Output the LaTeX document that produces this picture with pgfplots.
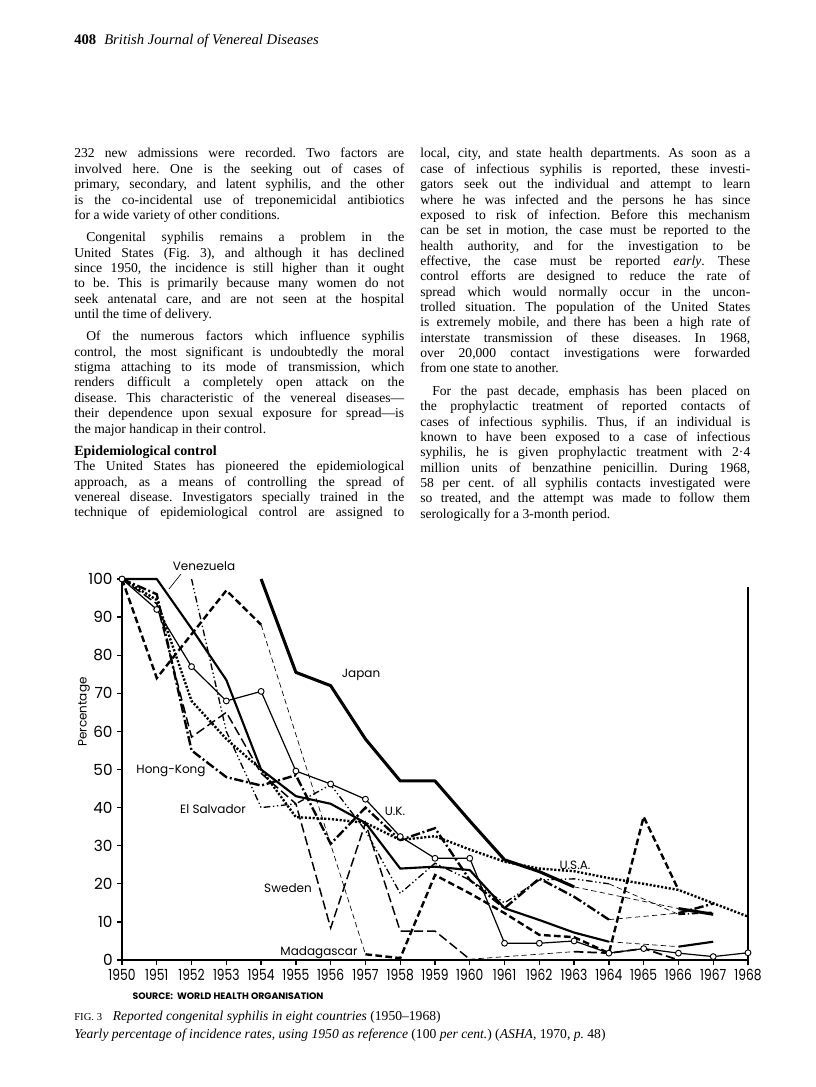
\documentclass[border=0pt]{standalone}
\usepackage{fontspec}
\setmainfont{Liberation Serif}
\newfontfamily\chartfont{Poppins}
\usepackage{pgfplots}
\pgfplotsset{compat=1.18}
\frenchspacing
\newcommand\jl[1]{\makebox[247.5pt][s]{#1}}
\newcommand\il[1]{\makebox[238.5pt][s]{#1}}
\tikzset{tl/.style={anchor=base west, inner sep=0pt, font=\fontsize{10.2}{12}\selectfont},
  cl/.style={inner sep=0pt, font=\chartfont\fontsize{9}{10}\selectfont}}
\begin{document}
\begin{tikzpicture}
\begin{scope}[x=0.75pt,y=-0.75pt]
\path[use as bounding box] (0,0) rectangle (816,1087);
\fill[white] (0,0) rectangle (816,1087);
% header
\node[anchor=base west, inner sep=0pt, font=\fontsize{11}{12}\selectfont] at (74,45) {\textbf{408}\hspace{6pt}\textit{British Journal of Venereal Diseases}};
% left column
\node[tl] at (74,158) {\jl{232 new admissions were recorded. Two factors are}};
\node[tl] at (74,173.4) {\jl{involved here. One is the seeking out of cases of}};
\node[tl] at (74,188.7) {\jl{primary, secondary, and latent syphilis, and the other}};
\node[tl] at (74,204.1) {\jl{is the co-incidental use of treponemicidal antibiotics}};
\node[tl] at (74,219.4) {for a wide variety of other conditions.};
\node[tl] at (86,241.8) {\il{Congenital syphilis remains a problem in the}};
\node[tl] at (74,257.1) {\jl{United States (Fig. 3), and although it has declined}};
\node[tl] at (74,272.5) {\jl{since 1950, the incidence is still higher than it ought}};
\node[tl] at (74,287.8) {\jl{to be. This is primarily because many women do not}};
\node[tl] at (74,303.2) {\jl{seek antenatal care, and are not seen at the hospital}};
\node[tl] at (74,318.5) {until the time of delivery.};
\node[tl] at (86,340.9) {\il{Of the numerous factors which influence syphilis}};
\node[tl] at (74,356.2) {\jl{control, the most significant is undoubtedly the moral}};
\node[tl] at (74,371.6) {\jl{stigma attaching to its mode of transmission, which}};
\node[tl] at (74,386.9) {\jl{renders difficult a completely open attack on the}};
\node[tl] at (74,402.3) {\jl{disease. This characteristic of the venereal diseases—}};
\node[tl] at (74,417.6) {\jl{their dependence upon sexual exposure for spread—is}};
\node[tl] at (74,433) {the major handicap in their control.};
\node[tl, font=\fontsize{10.5}{12}\selectfont\bfseries] at (74,455.4) {Epidemiological control};
\node[tl] at (74,470.7) {\jl{The United States has pioneered the epidemiological}};
\node[tl] at (74,486.1) {\jl{approach, as a means of controlling the spread of}};
\node[tl] at (74,501.4) {\jl{venereal disease. Investigators specially trained in the}};
\node[tl] at (74,516.8) {\jl{technique of epidemiological control are assigned to}};
% right column
\node[tl] at (420,158) {\jl{local, city, and state health departments. As soon as a}};
\node[tl] at (420,173.4) {\jl{case of infectious syphilis is reported, these investi-}};
\node[tl] at (420,188.7) {\jl{gators seek out the individual and attempt to learn}};
\node[tl] at (420,204.1) {\jl{where he was infected and the persons he has since}};
\node[tl] at (420,219.4) {\jl{exposed to risk of infection. Before this mechanism}};
\node[tl] at (420,234.8) {\jl{can be set in motion, the case must be reported to the}};
\node[tl] at (420,250.1) {\jl{health authority, and for the investigation to be}};
\node[tl] at (420,265.5) {\jl{effective, the case must be reported \textit{early}. These}};
\node[tl] at (420,280.8) {\jl{control efforts are designed to reduce the rate of}};
\node[tl] at (420,296.2) {\jl{spread which would normally occur in the uncon-}};
\node[tl] at (420,311.5) {\jl{trolled situation. The population of the United States}};
\node[tl] at (420,326.9) {\jl{is extremely mobile, and there has been a high rate of}};
\node[tl] at (420,342.2) {\jl{interstate transmission of these diseases. In 1968,}};
\node[tl] at (420,357.6) {\jl{over 20,000 contact investigations were forwarded}};
\node[tl] at (420,372.9) {from one state to another.};
\node[tl] at (432,395.3) {\il{For the past decade, emphasis has been placed on}};
\node[tl] at (420,410.6) {\jl{the prophylactic treatment of reported contacts of}};
\node[tl] at (420,426) {\jl{cases of infectious syphilis. Thus, if an individual is}};
\node[tl] at (420,441.3) {\jl{known to have been exposed to a case of infectious}};
\node[tl] at (420,456.7) {\jl{syphilis, he is given prophylactic treatment with 2·4}};
\node[tl] at (420,472) {\jl{million units of benzathine penicillin. During 1968,}};
\node[tl] at (420,487.4) {\jl{58 per cent. of all syphilis contacts investigated were}};
\node[tl] at (420,502.7) {\jl{so treated, and the attempt was made to follow them}};
\node[tl] at (420,518.1) {serologically for a 3-month period.};
% chart labels
\node[cl] at (204,566) {Venezuela};
\draw[line width=0.5pt] (181,574) -- (169,589);
\node[cl] at (361,675) {Japan};
\node[cl] at (171,771) {Hong-Kong};
\node[cl] at (213,809) {El Salvador};
\node[cl] at (395,811) {U.K.};
\node[cl] at (575,865) {U.S.A.};
\node[cl] at (288,888) {Sweden};
\node[cl] at (319,953) {Madagascar};
\node[cl, rotate=90] at (84,712) {Percentage};
\node[inner sep=0pt, font=\chartfont\fontsize{7}{8}\selectfont\bfseries] at (228,996) {SOURCE:\ \ WORLD HEALTH ORGANISATION};
% caption
\node[tl] at (74,1020) {{\fontsize{8}{9}\selectfont FIG. 3}\hspace{8pt}\textit{Reported congenital syphilis in eight countries} (1950–1968)};
\node[tl] at (74,1038) {\textit{Yearly percentage of incidence rates, using 1950 as reference} (100 \textit{per cent.}) (\textit{ASHA}, 1970, \textit{p.} 48)};
\end{scope}
\begin{axis}[
  at={(91.5pt,-720pt)}, anchor=south west,
  scale only axis, width=469.5pt, height=285.75pt,
  xmin=1950, xmax=1968, ymin=0, ymax=100,
  axis x line*=bottom, axis y line*=left,
  axis line style={line width=1.2pt},
  xtick={1950,...,1968}, ytick={0,10,...,100},
  tick align=outside, major tick length=3.5pt,
  tick style={line width=1pt, black},
  /pgf/number format/1000 sep={},
  /pgf/number format/assume math mode=true,
  ticklabel style={font=\chartfont\fontsize{11.5}{12}\selectfont},
  xticklabel style={xscale=0.8},
  clip=false,
  thinconn/.style={line width=0.5pt, dash pattern=on 4pt off 2.5pt},
]
\draw[line width=1.2pt] (axis cs:1968,0) -- (axis cs:1968,98);
% Japan
\addplot[line width=2.3pt, line join=round] coordinates {(1954,100)(1955,75.5)(1956,72)(1957,58)(1958,47)(1959,47)(1960,36.5)(1961,26.3)(1962,23.2)(1963,19.2)};
\addplot[thinconn] coordinates {(1963,19.2)(1966,13.5)};
\addplot[line width=2.3pt] coordinates {(1966,13.5)(1967,12)};
% Venezuela
\addplot[line width=1.6pt, line join=round] coordinates {(1950,100)(1951,100)(1952,87)(1953,73.5)(1954,50)(1955,43)(1956,41)(1957,36)(1958,24)(1959,24.5)(1960,23.6)(1961,13.6)(1962,10.5)(1963,7.2)(1964,4.8)};
\addplot[thinconn] coordinates {(1964,4.8)(1966,3.5)};
\addplot[line width=1.6pt] coordinates {(1966,3.5)(1967,4.8)};
% U.K.
\addplot[line width=0.9pt, mark=*, mark size=2.2pt, mark options={fill=white, line width=0.7pt, solid}] coordinates {(1950,100)(1951,92)(1952,77)(1953,68)(1954,70.5)(1955,49.6)(1956,46.2)(1957,42.2)(1958,32.4)(1959,26.7)(1960,26.7)(1961,4.4)(1962,4.4)(1963,5.0)(1964,1.8)(1965,3.0)(1966,1.8)(1967,0.9)(1968,1.9)};
% U.S.A.
\addplot[line width=1.8pt, dash pattern=on 1.6pt off 1.3pt] coordinates {(1950,100)(1951,94.5)(1952,68)(1953,58)(1954,50)(1955,37.5)(1956,37)(1957,36)(1958,31.5)(1959,32.5)(1960,29)(1961,25.8)(1962,24)(1963,23.3)(1964,21.5)(1965,20)(1966,18.4)(1967,14.9)(1968,11.4)};
% Madagascar
\addplot[line width=1.8pt, dash pattern=on 5pt off 2.5pt] coordinates {(1950,100)(1951,74)(1952,85.5)(1953,97)(1954,88)};
\addplot[thinconn] coordinates {(1954,88)(1957,1.5)};
\addplot[line width=1.8pt, dash pattern=on 5pt off 2.5pt] coordinates {(1957,1.5)(1958,0.5)(1959,22.3)(1960,17.5)(1961,12.3)(1962,6.6)(1963,6.0)(1964,1.8)(1965,37.6)(1966,18.4)};
% Sweden
\addplot[line width=1.1pt, dash pattern=on 7pt off 3pt] coordinates {(1950,100)(1951,93.5)(1952,58.5)(1953,65)(1954,49)(1955,41)(1956,8.4)(1957,36)(1958,7.6)(1959,7.6)(1960,0.2)};
\addplot[thinconn] coordinates {(1960,0.2)(1963,2.2)};
\addplot[line width=1.3pt, dash pattern=on 7pt off 3pt] coordinates {(1963,2.2)(1964,1.8)(1965,3)(1966,0)(1967,0)};
% Hong-Kong
\addplot[line width=1.8pt, dash pattern=on 7pt off 2pt on 1.5pt off 2pt] coordinates {(1950,100)(1951,96)(1952,55)(1953,48)(1954,45.8)(1955,48.5)(1956,30.5)(1957,40)(1958,31.5)(1959,34.6)(1960,21)(1961,13.6)(1962,21.4)(1963,16.6)(1964,10.6)};
\addplot[thinconn] coordinates {(1964,10.6)(1966,12.3)};
\addplot[line width=1.8pt, dash pattern=on 7pt off 2pt on 1.5pt off 2pt] coordinates {(1966,12.3)(1967,14.8)};
% El Salvador
\addplot[line width=1pt, dash pattern=on 5pt off 2pt on 1pt off 2pt on 1pt off 2pt] coordinates {(1952,100)(1953,60)(1954,40)(1955,41)(1956,46)(1957,34)(1958,17.5)(1959,25.4)(1960,21)(1961,15)(1962,21)(1963,21.3)(1964,20)};
\addplot[thinconn] coordinates {(1964,20)(1966,12)};
\addplot[line width=1.3pt, dash pattern=on 5pt off 2pt on 1pt off 2pt] coordinates {(1966,12)(1967,12.5)};
\end{axis}
\end{tikzpicture}
\end{document}
